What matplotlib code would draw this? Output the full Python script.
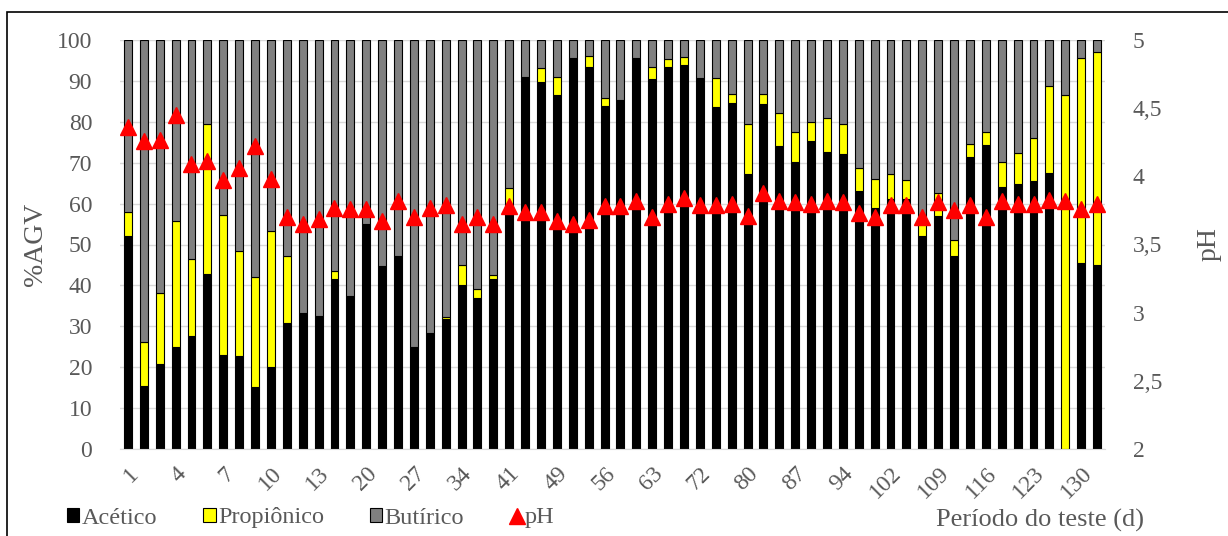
import numpy as np
import matplotlib.pyplot as plt
from matplotlib.patches import Rectangle

plt.rcParams['font.family'] = ['Liberation Serif', 'DejaVu Serif']

dias = ['1', '4', '7', '10', '13', '20', '27', '34', '41', '49', '56',
        '63', '72', '80', '87', '94', '102', '109', '116', '123', '130']

acetico = [52.2, 15.5, 20.9, 25.0, 27.6, 42.9, 23.1, 22.8, 15.2, 20.1,
           30.7, 33.2, 32.5, 41.5, 37.5, 54.9, 44.7, 47.3, 25.0, 28.3,
           31.7, 40.1, 37.0, 41.5, 57.9, 91.0, 89.8, 86.6, 95.7, 93.3,
           83.9, 85.4, 95.5, 90.4, 93.3, 93.8, 90.6, 83.5, 84.5, 67.2,
           84.4, 74.1, 70.2, 75.4, 72.5, 72.1, 63.1, 59.0, 61.1, 61.1,
           52.1, 57.0, 47.2, 71.3, 74.3, 64.1, 64.9, 65.5, 67.4, 0.0,
           45.4, 44.9]

propionico = [5.8, 10.6, 17.2, 30.8, 18.9, 36.5, 34.1, 25.7, 26.9, 33.1,
              16.5, 0.0, 0.0, 1.9, 0.0, 0.0, 0.0, 0.0, 0.0, 0.0,
              0.5, 4.8, 2.0, 1.0, 6.0, 0.0, 3.4, 4.4, 0.0, 2.7,
              1.8, 0.0, 0.0, 3.1, 2.1, 2.0, 0.0, 7.3, 2.3, 12.2,
              2.5, 8.1, 7.2, 4.6, 8.5, 7.4, 5.5, 7.1, 6.1, 4.7,
              4.9, 5.7, 4.0, 3.2, 3.2, 6.0, 7.4, 10.5, 21.4, 86.5,
              50.1, 52.2]

ph = [4.36, 4.26, 4.27, 4.45, 4.09, 4.11, 3.97, 4.06, 4.22, 3.98,
      3.70, 3.65, 3.69, 3.77, 3.76, 3.76, 3.67, 3.82, 3.70, 3.77,
      3.79, 3.65, 3.70, 3.65, 3.78, 3.74, 3.74, 3.67, 3.65, 3.68,
      3.78, 3.78, 3.82, 3.70, 3.80, 3.84, 3.79, 3.79, 3.80, 3.71,
      3.88, 3.82, 3.81, 3.80, 3.82, 3.81, 3.73, 3.70, 3.79, 3.79,
      3.70, 3.81, 3.75, 3.79, 3.70, 3.82, 3.80, 3.80, 3.83, 3.82,
      3.76, 3.80]

acetico = np.array(acetico)
propionico = np.array(propionico)
butirico = 100 - acetico - propionico
x = np.arange(len(acetico))

cinza = '#595959'

fig = plt.figure(figsize=(12.28, 5.36), dpi=100)
ax = fig.add_axes([120/1228, 1 - 449/536, 985/1228, 409/536])

w = 0.5
ax.bar(x, acetico, w, color='black', edgecolor='black', lw=0.8, label='Acético')
ax.bar(x, propionico, w, bottom=acetico, color='#ffff00', edgecolor='black',
       lw=0.8, label='Propiônico')
ax.bar(x, butirico, w, bottom=acetico + propionico, color='#808080',
       edgecolor='black', lw=0.8, label='Butírico')

ax.set_xlim(-0.5, len(x) - 0.5)
ax.set_ylim(0, 100)
ax.set_yticks(range(0, 101, 10))
ax.set_axisbelow(True)
ax.grid(axis='y', color='#d9d9d9', lw=1)
for s in ['left', 'right', 'top']:
    ax.spines[s].set_visible(False)
ax.spines['bottom'].set_color('#d9d9d9')
ax.tick_params(axis='both', length=0, labelsize=17, colors=cinza)
ax.tick_params(axis='y', pad=20)
ax.set_xticks(x[::3])
ax.set_xticklabels(dias, rotation=45, ha='right', rotation_mode='anchor')
ax.tick_params(axis='x', pad=10)
ax.set_ylabel('%AGV', fontsize=20, color=cinza)
ax.yaxis.set_label_coords(-0.073, 0.5)

ax2 = ax.twinx()
ax2.plot(x, ph, '^', color='red', ms=11, label='pH')
ax2.set_ylim(2, 5)
ax2.set_yticks(np.arange(2, 5.01, 0.5))
ax2.set_yticklabels([f'{v:g}'.replace('.', ',') for v in np.arange(2, 5.01, 0.5)])
for s in ['left', 'right', 'top', 'bottom']:
    ax2.spines[s].set_visible(False)
ax2.tick_params(axis='y', length=0, labelsize=17, colors=cinza, pad=20)
ax2.set_ylabel('pH', fontsize=20, color=cinza)
ax2.yaxis.set_label_coords(1.093, 0.5)

h1, l1 = ax.get_legend_handles_labels()
h2, l2 = ax2.get_legend_handles_labels()
fig.legend(h1 + h2, l1 + l2, loc='center left', bbox_to_anchor=(55/1228, 1 - 518/536),
           ncol=4, frameon=False, fontsize=17.5, handlelength=0.5, handleheight=0.5,
           handletextpad=0.1, columnspacing=1.9, labelcolor=cinza, borderpad=0)

fig.text(1040/1228, 1 - 520/536, 'Período do teste (d)', fontsize=19, color=cinza,
         ha='center', va='center')

fig.patches.append(Rectangle((7/1228, -0.1), 1.2, 1 - 12/536 + 0.1,
                             transform=fig.transFigure, fill=False,
                             edgecolor='black', lw=1.2))

fig.savefig('out.png', dpi=100)
